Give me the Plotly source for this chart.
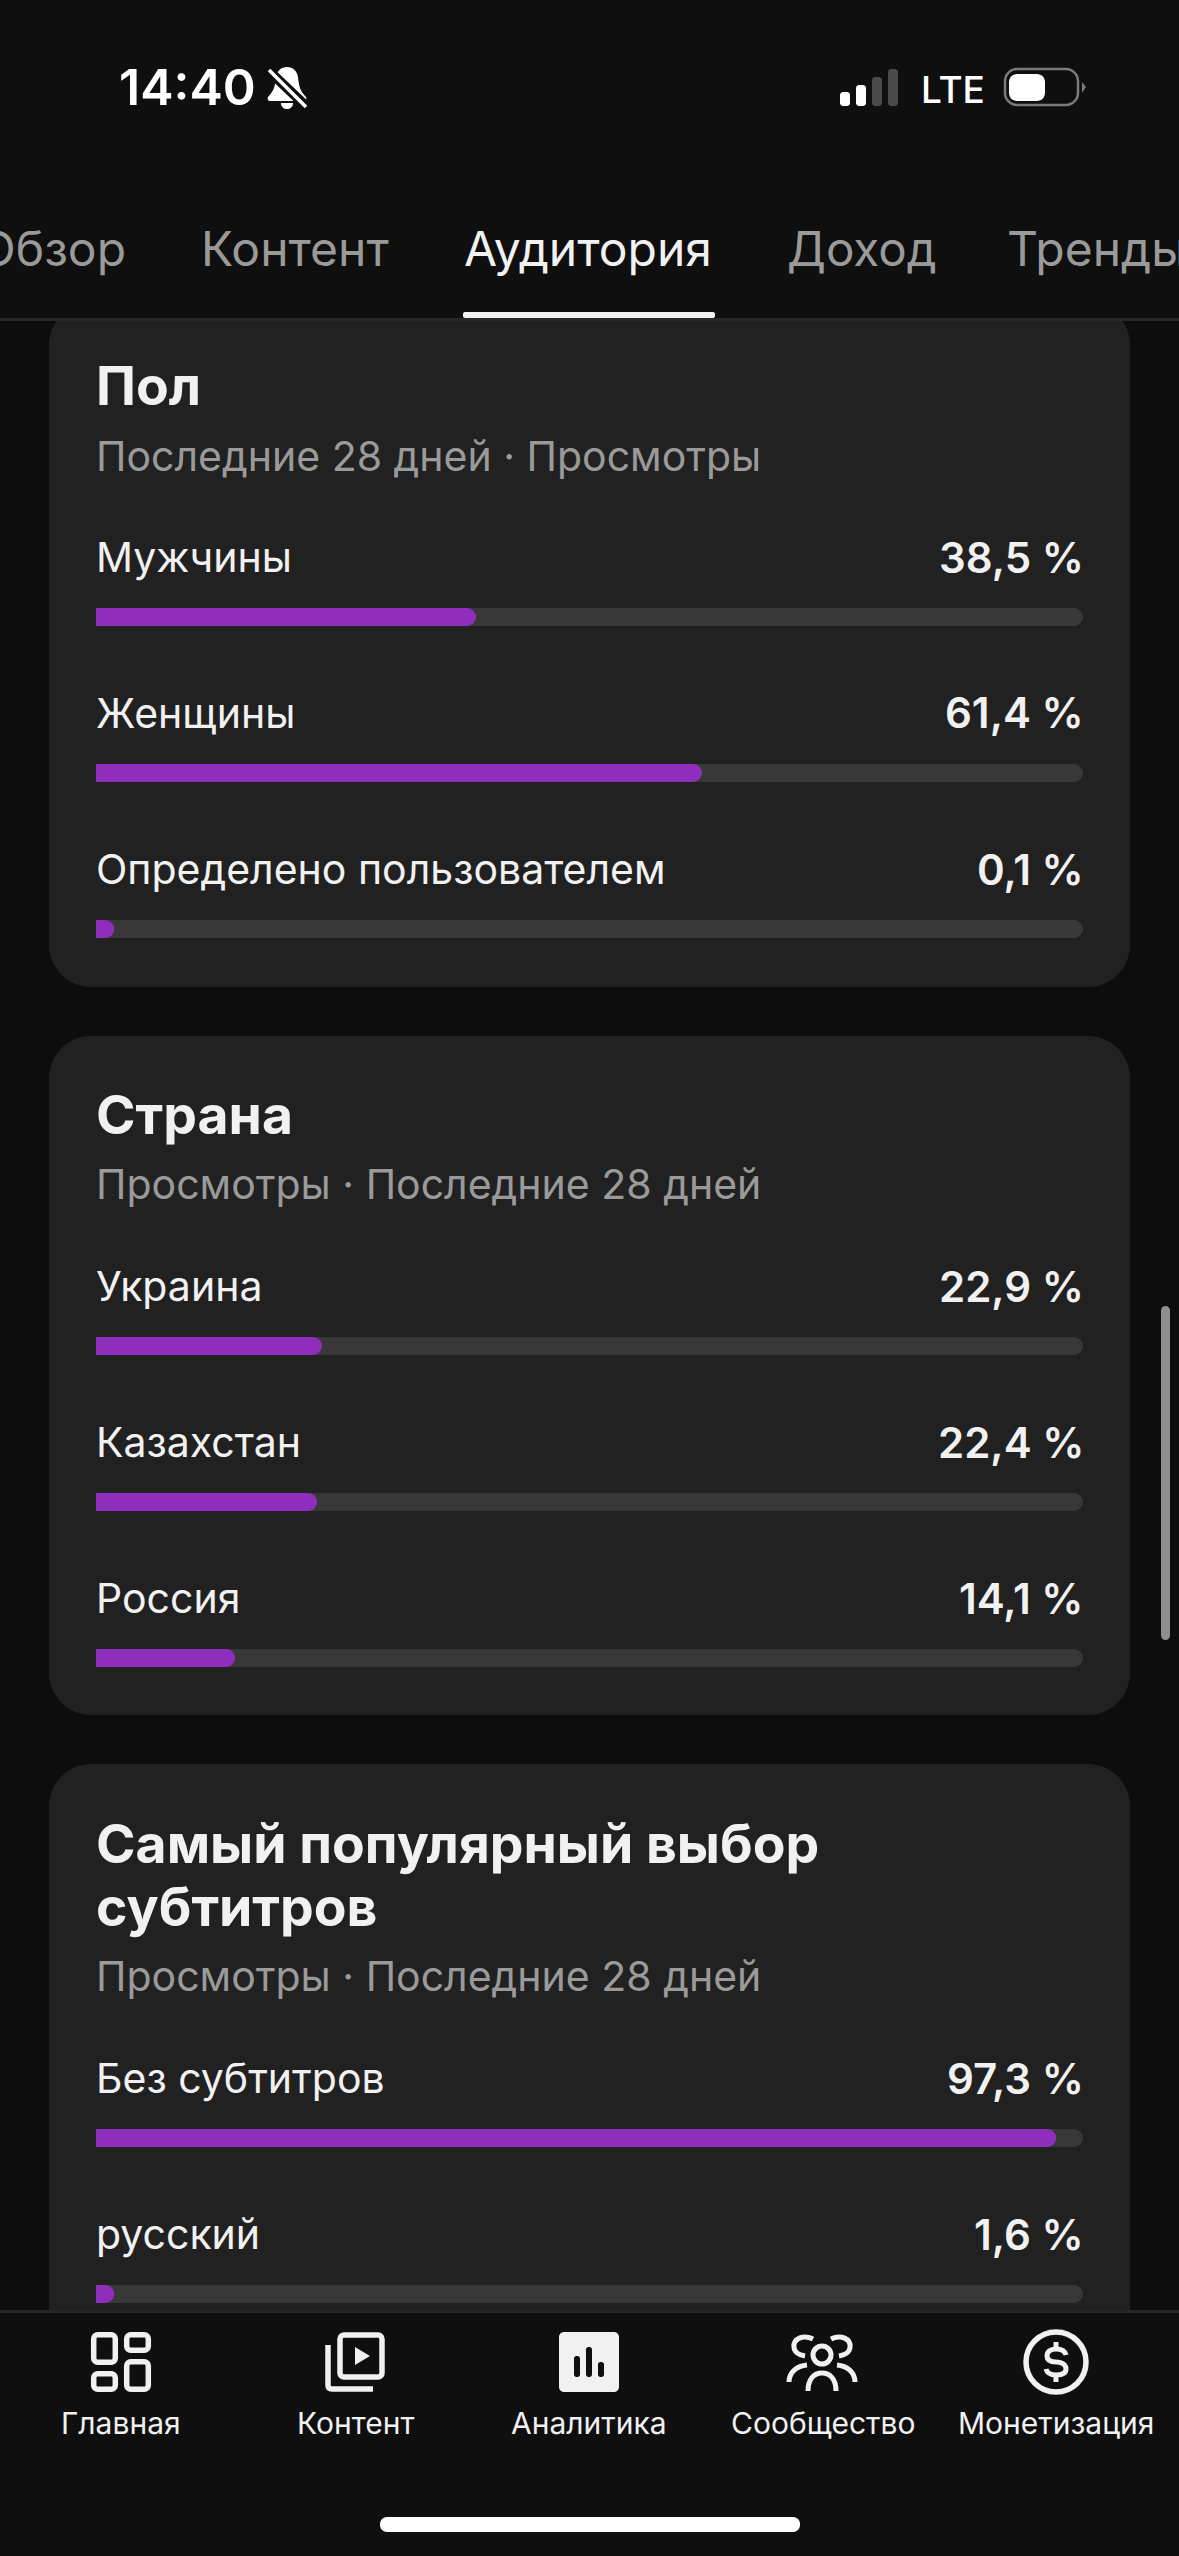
import re
import plotly.graph_objects as go

W = 1179
H = 2556

# card data
gender_labels = ["Мужчины", "Женщины", "Определено пользователем"]
gender_values = [38.5, 61.4, 0.1]
country_labels = ["Украина", "Казахстан", "Россия"]
country_values = [22.9, 22.4, 14.1]
subs_labels = ["Без субтитров", "русский"]
subs_values = [97.3, 1.6]

tab_labels = ["Обзор", "Контент", "Аудитория", "Доход", "Тренды"]
nav_labels = ["Главная", "Контент", "Аналитика", "Сообщество", "Монетизация"]

BG = "#0d0d0d"
BAR_BG = "#0f0f0f"
CARD = "#212121"
TRACK = "#383838"
PURPLE = "#8f2ebd"
WHITE = "#f1f1f1"
GRAY = "#9a9a9a"
FONT = "Inter"
MIN_FILL = 1.85  # the app never draws a fill shorter than a dot


def px(x):
    return x / W


def py(y):
    return 1 - y / H


def path(s):
    # pixel path -> paper path
    tokens = re.findall(r"[MLCQZ]|-?\d+\.?\d*", s)
    out = []
    is_x = True
    for t in tokens:
        if t.isalpha():
            out.append(t)
        else:
            out.append(f"{px(float(t)):.6f}" if is_x else f"{py(float(t)):.6f}")
            is_x = not is_x
    return " ".join(out)


def rrect_path(x0, y0, x1, y1, r):
    k = r * 0.45
    return (f"M {x0+r} {y0} L {x1-r} {y0} C {x1-k} {y0} {x1} {y0+k} {x1} {y0+r} L {x1} {y1-r} "
            f"C {x1} {y1-k} {x1-k} {y1} {x1-r} {y1} L {x0+r} {y1} C {x0+k} {y1} {x0} {y1-k} {x0} {y1-r} "
            f"L {x0} {y0+r} C {x0} {y0+k} {x0+k} {y0} {x0+r} {y0} Z")


shapes = []


def fill_shape(d, color, layer="below"):
    shapes.append(dict(type="path", xref="paper", yref="paper", path=path(d), fillcolor=color,
                       line=dict(width=0), layer=layer))


def stroke_shape(d, color, width):
    shapes.append(dict(type="path", xref="paper", yref="paper", path=path(d), fillcolor="rgba(0,0,0,0)",
                       line=dict(color=color, width=width), layer="above"))


def rect(x0, y0, x1, y1, color, r=0, layer="above"):
    fill_shape(rrect_path(x0, y0, x1, y1, r) if r else f"M {x0} {y0} L {x1} {y0} L {x1} {y1} L {x0} {y1} Z", color, layer)


annotations = []


def text(x, y, s, size, color=WHITE, anchor="left", weight=400, family=FONT):
    annotations.append(dict(xref="paper", yref="paper", x=px(x), y=py(y), text=s, showarrow=False,
                            xanchor=anchor, yanchor="middle", align=anchor,
                            font=dict(family=family, size=size, color=color, weight=weight)))


def fmt(v):
    return f"{v:.1f}".replace(".", ",") + " %"


fig = go.Figure()

# rows are 156px apart
ROW = 156
BAR_H = 18
cards = [
    dict(title=["Пол"], title_y=[386], sub="Последние 28 дней · Просмотры", sub_y=456.5, top=303, bottom=987,
         first=617, labels=gender_labels, values=gender_values),
    dict(title=["Страна"], title_y=[1114], sub="Просмотры · Последние 28 дней", sub_y=1183.5, top=1036, bottom=1715,
         first=1346, labels=country_labels, values=country_values),
    dict(title=["Самый популярный выбор", "субтитров"], title_y=[1843, 1906], sub="Просмотры · Последние 28 дней",
         sub_y=1976, top=1764, bottom=2500, first=2138, labels=subs_labels, values=subs_values),
]

layout_axes = {}
for i, c in enumerate(cards):
    n = len(c["labels"])
    y_top = c["first"] - ROW / 2
    y_bot = y_top + n * ROW
    # track and fill sit on separate axis pairs, bars sharing a subplot only round the longest one
    for offset, vals, color in [(1, [100] * n, TRACK), (4, [max(v, MIN_FILL) for v in c["values"]], PURPLE)]:
        k = i + offset
        suffix = "" if k == 1 else str(k)
        xa = "x" + suffix
        ya = "y" + suffix
        fig.add_trace(go.Bar(y=c["labels"], x=vals, orientation="h", width=BAR_H / ROW, marker_color=color,
                             marker_line_width=0, xaxis=xa, yaxis=ya, hoverinfo="skip", showlegend=False))
        layout_axes["xaxis" + suffix] = dict(domain=[px(96), px(1083)], range=[0, 100], visible=False, anchor=ya)
        layout_axes["yaxis" + suffix] = dict(domain=[py(y_bot), py(y_top)], type="category", categoryorder="array",
                                             categoryarray=c["labels"], range=[n - 0.5, -0.5], visible=False, anchor=xa)

    rect(49, c["top"], 1130, c["bottom"], CARD, r=42, layer="below")
    for line, ly in zip(c["title"], c["title_y"]):
        text(94, ly, line, 53.5, weight=700)
    text(94, c["sub_y"], c["sub"], 41, color=GRAY)
    for j, (lab, val) in enumerate(zip(c["labels"], c["values"])):
        ly = c["first"] + j * ROW - 60
        text(94, ly, lab, 41)
        text(1086, ly, fmt(val), 42, anchor="right", weight=600)

# scrollbar
rect(1161, 1306, 1170, 1640, "#8f8f8f", r=4.5, layer="below")

# header and bottom nav cover the cards
rect(0, 0, W, 318, BAR_BG)
rect(0, 318, W, 321, "#272727")
rect(0, 2310, W, 2313, "#272727")
rect(0, 2313, W, H, BAR_BG)
rect(463, 312, 715, 318, WHITE, r=2)
rect(380, 2517, 800, 2532, "#ffffff", r=7)

# status bar
text(117, 87, "14:40", 50, color="#ffffff", weight=600, family="Inter")
fill_shape("M 287 67 C 281 67 277 71 276 77 C 275 86 274 91 268 97 C 267 99 268 101 270 101 L 304 101 "
           "C 306 101 307 99 306 97 C 300 91 299 86 298 77 C 297 71 293 67 287 67 Z", "#ffffff", "above")
fill_shape("M 281 103 L 293 103 C 293 107 290 109 287 109 C 284 109 281 107 281 103 Z", "#ffffff", "above")
stroke_shape("M 266 68 L 309 109", BAR_BG, 10)
stroke_shape("M 269 70 L 306 107", "#ffffff", 3.5)
rect(840, 92, 850, 106, "#ffffff", r=3)
rect(856, 85, 866, 106, "#ffffff", r=3)
rect(872, 77, 882, 106, "#4a4a4a", r=3)
rect(888, 69, 898, 106, "#4a4a4a", r=3)
text(919, 89, "LTE", 37, color="#ffffff", weight=500, family="Inter")
stroke_shape(rrect_path(1005, 69, 1078, 105, 12), "#7a7a7a", 2.5)
rect(1009, 74, 1045, 101, "#ffffff", r=8)
fill_shape("M 1082 82 L 1086 87 L 1082 93 Z", "#7a7a7a", "above")

# tabs
text(128, 248.5, tab_labels[0], 48, color=GRAY, anchor="right")
text(199, 248.5, tab_labels[1], 48, color=GRAY)
text(462, 248.5, tab_labels[2], 48, color=WHITE)
text(785, 248.5, tab_labels[3], 47.5, color=GRAY)
text(1005, 248.5, tab_labels[4], 48, color=GRAY)

# bottom nav labels
for x, lab in zip([121, 355, 589, 823, 1056], nav_labels):
    text(x, 2423, lab, 30, anchor="center")

# home icon
for x0, y0, x1, y1 in [(91, 2332, 118, 2365), (124, 2332, 151, 2353), (91, 2371, 118, 2392), (124, 2359, 151, 2392)]:
    stroke_shape(rrect_path(x0 + 2.7, y0 + 2.7, x1 - 2.7, y1 - 2.7, 4), WHITE, 5.5)
# content icon
stroke_shape(rrect_path(340, 2335, 382, 2377, 4), WHITE, 5.5)
stroke_shape("M 328 2345 L 328 2385 Q 328 2389 332 2389 L 373 2389", WHITE, 5.5)
fill_shape("M 355 2347 L 370 2356 L 355 2365 Z", WHITE, "above")
# analytics icon
rect(559, 2332, 619, 2392, WHITE, r=5)
rect(574, 2356, 580, 2377, BAR_BG, r=2.5)
rect(586, 2347, 592, 2377, BAR_BG, r=2.5)
rect(598, 2362, 604, 2377, BAR_BG, r=2.5)
# community icon
stroke_shape("M 813 2339 C 803 2334 793 2339 794 2347 C 794 2352 799 2355 805 2356", WHITE, 5)
stroke_shape("M 831 2339 C 841 2334 851 2339 850 2347 C 850 2352 845 2355 839 2356", WHITE, 5)
shapes.append(dict(type="circle", xref="paper", yref="paper", x0=px(813), x1=px(831), y0=py(2364), y1=py(2346),
                   line=dict(color=WHITE, width=5), fillcolor="rgba(0,0,0,0)", layer="above"))
stroke_shape("M 808 2391 C 808 2379 814 2373 822 2373 C 830 2373 836 2379 836 2391", WHITE, 5)
stroke_shape("M 789 2382 C 789 2372 797 2366 807 2365", WHITE, 5)
stroke_shape("M 855 2382 C 855 2372 847 2366 837 2365", WHITE, 5)
# money icon
shapes.append(dict(type="circle", xref="paper", yref="paper", x0=px(1026), x1=px(1086), y0=py(2392), y1=py(2332),
                   line=dict(color=WHITE, width=5.5), fillcolor="rgba(0,0,0,0)", layer="above"))
stroke_shape("M 1066 2355 C 1065 2351 1061 2349 1056 2349 C 1050 2349 1047 2352 1047 2356 C 1047 2361 1052 2362 1056 2362 "
             "C 1061 2362 1066 2364 1066 2369 C 1066 2373 1062 2375 1056 2375 C 1051 2375 1047 2373 1046 2369", WHITE, 5)
stroke_shape("M 1056 2342 L 1056 2349", WHITE, 5)
stroke_shape("M 1056 2375 L 1056 2382", WHITE, 5)

fig.update_layout(width=W, height=H, margin=dict(l=0, r=0, t=0, b=0), paper_bgcolor=BG, plot_bgcolor="rgba(0,0,0,0)",
                  barmode="overlay", barcornerradius=9, shapes=shapes, annotations=annotations, **layout_axes)

fig.write_html("out.html", config=dict(displayModeBar=False),
               post_script="document.body.style.margin='0';document.body.style.overflow='hidden';")
